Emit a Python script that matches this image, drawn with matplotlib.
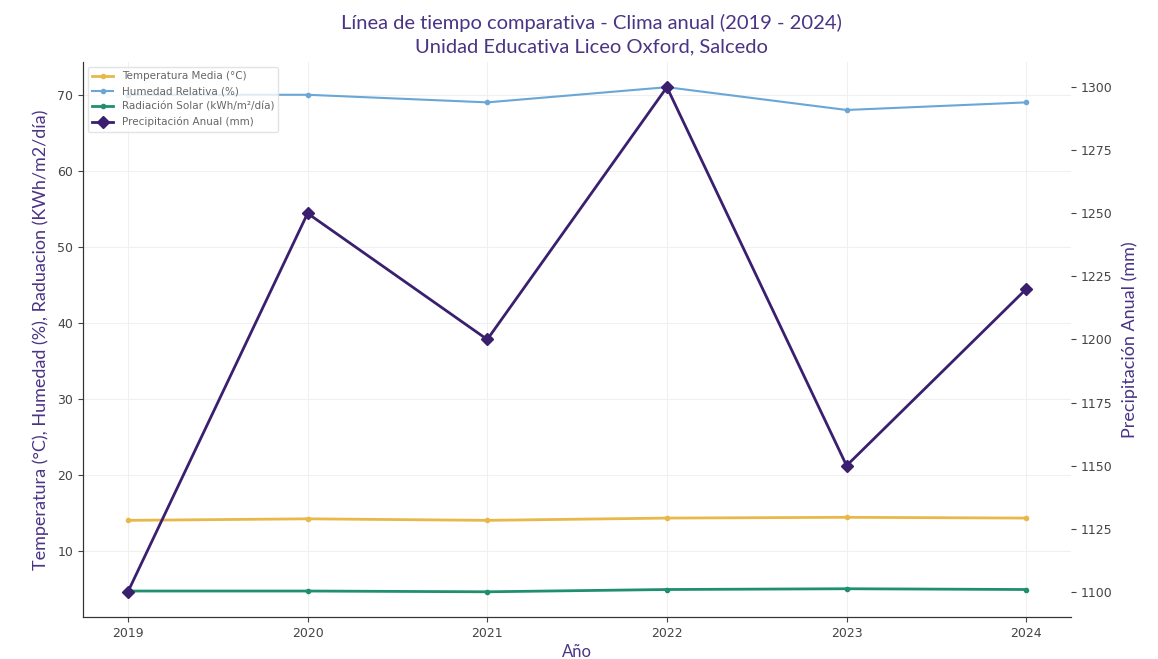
import matplotlib.pyplot as plt

# data
years = [2019, 2020, 2021, 2022, 2023, 2024]
temperatura = [14.0, 14.2, 14.0, 14.3, 14.4, 14.3]
humedad = [70, 70, 69, 71, 68, 69]
radiacion = [4.7, 4.7, 4.6, 4.9, 5.0, 4.9]
precipitacion = [1100, 1250, 1200, 1300, 1150, 1220]

PURPLE = '#4a3484'
TICK = '#444444'

plt.rcParams['font.family'] = ['Lato', 'DejaVu Sans']

fig = plt.figure(figsize=(11.58, 6.59), dpi=100)
ax = fig.add_axes([0.0717, 0.0637, 0.8533, 0.8423])

l1, = ax.plot(years, temperatura, color='#e8b84a', marker='o', markersize=3, linewidth=2,
              label='Temperatura Media (°C)')
l2, = ax.plot(years, humedad, color='#6aa6d6', marker='o', markersize=3, linewidth=1.5,
              label='Humedad Relativa (%)')
l3, = ax.plot(years, radiacion, color='#1f8f6f', marker='o', markersize=3, linewidth=2,
              label='Radiación Solar (kWh/m²/día)')

ax2 = ax.twinx()
l4, = ax2.plot(years, precipitacion, color='#3a1f6e', marker='D', markersize=6, linewidth=2,
               label='Precipitación Anual (mm)')

ax.set_xticks(years)
ax.set_yticks([10, 20, 30, 40, 50, 60, 70])
ax.grid(True, color='#f0f0f0', linewidth=0.8)
for a in (ax, ax2):
    a.tick_params(colors=TICK, labelsize=9, labelcolor=TICK)
    for lab in a.get_xticklabels() + a.get_yticklabels():
        lab.set_family('DejaVu Sans')
    for s in a.spines.values():
        s.set_color('#333333')
ax2.spines['right'].set_visible(False)
ax2.spines['top'].set_visible(False)
ax.spines['top'].set_visible(False)
ax.spines['right'].set_visible(False)

ax.set_xlabel('Año', color=PURPLE, fontsize=12, labelpad=3)
ax.set_ylabel('Temperatura (°C), Humedad (%), Raduacion (KWh/m2/día)', color=PURPLE, fontsize=13,
              labelpad=6)
ax2.set_ylabel('Precipitación Anual (mm)', color=PURPLE, fontsize=13, labelpad=6)

leg = ax.legend(handles=[l1, l2, l3, l4], loc='upper left', frameon=True,
                framealpha=0.8, edgecolor='#dddddd', labelcolor='#666666',
                prop={'family': 'DejaVu Sans', 'size': 7.5})

fig.text(0.511, 1 - 23 / 659, 'Línea de tiempo comparativa - Clima anual (2019 - 2024)',
         ha='center', va='center', color=PURPLE, fontsize=14.5)
fig.text(0.511, 1 - 47 / 659, 'Unidad Educativa Liceo Oxford, Salcedo',
         ha='center', va='center', color=PURPLE, fontsize=14.5)

fig.savefig('out.png', dpi=100)
